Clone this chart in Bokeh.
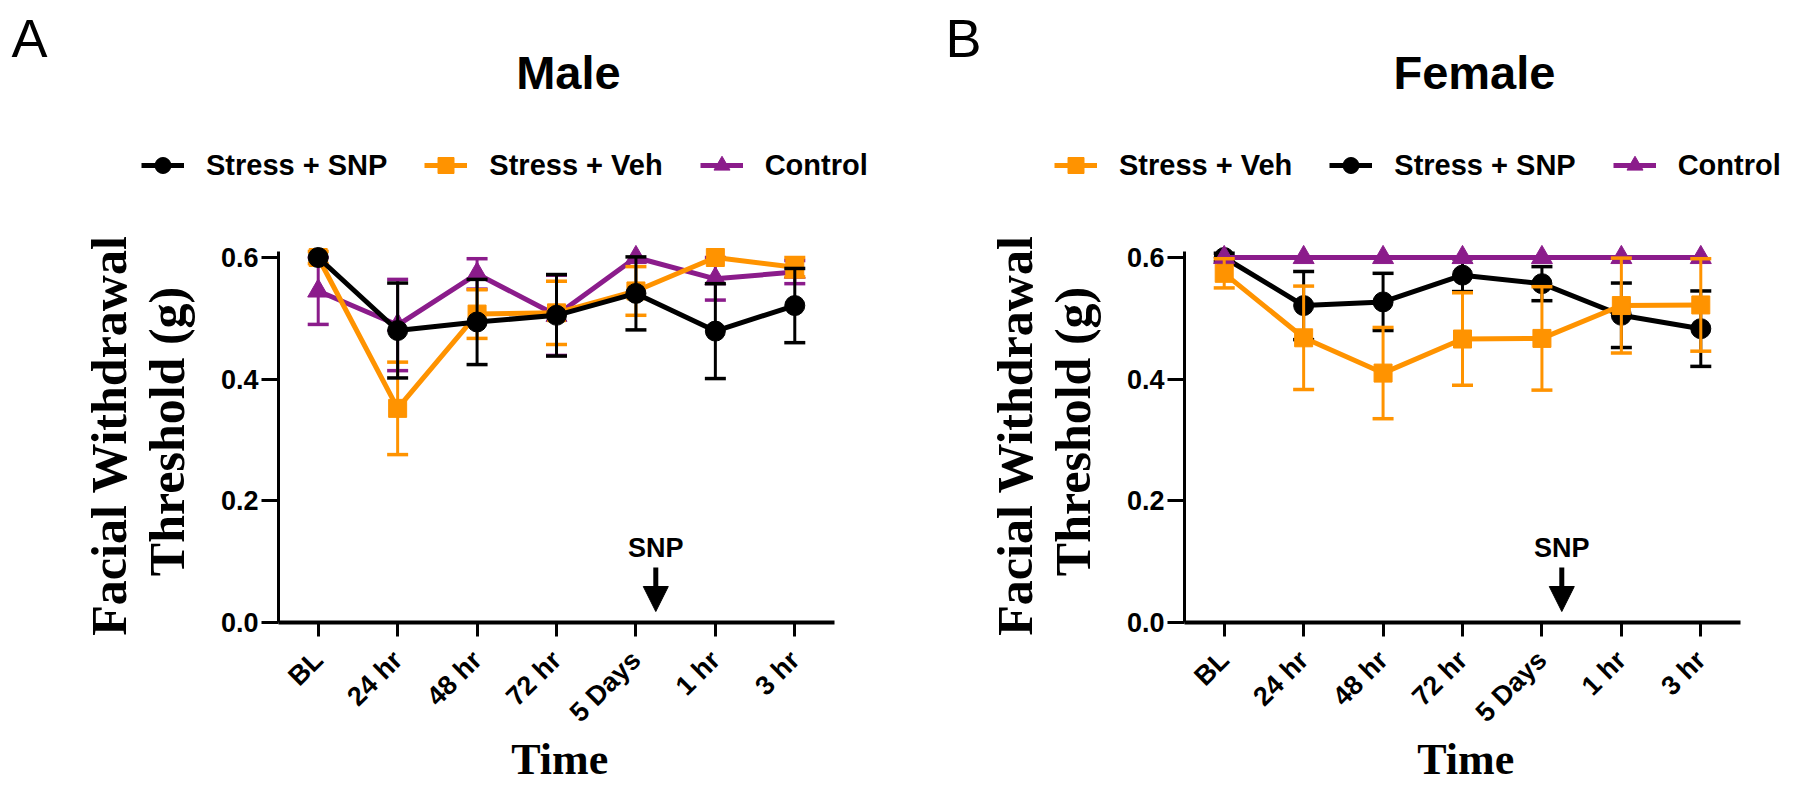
import math
from bokeh.plotting import figure
from bokeh.layouts import row
from bokeh.models import (Range1d, FixedTicker, Label, Arrow, NormalHead, Legend,
                          LegendItem, ColumnDataSource)
from bokeh.embed import file_html
from bokeh.resources import INLINE

# ---------------- data ----------------
times = ["BL", "24 hr", "48 hr", "72 hr", "5 Days", "1 hr", "3 hr"]
x_pos = list(range(len(times)))

male_snp = [0.600, 0.480, 0.494, 0.505, 0.541, 0.479, 0.521]
male_snp_sem = [0.0, 0.078, 0.070, 0.067, 0.060, 0.078, 0.061]
male_veh = [0.600, 0.352, 0.507, 0.509, 0.545, 0.600, 0.584]
male_veh_sem = [0.010, 0.076, 0.040, 0.052, 0.040, 0.0, 0.016]
male_ctl = [0.545, 0.489, 0.573, 0.505, 0.600, 0.565, 0.576]
male_ctl_sem = [0.055, 0.075, 0.025, 0.066, 0.0, 0.035, 0.019]

female_veh = [0.574, 0.468, 0.410, 0.466, 0.467, 0.521, 0.522]
female_veh_sem = [0.024, 0.085, 0.075, 0.076, 0.085, 0.078, 0.076]
female_snp = [0.600, 0.521, 0.527, 0.571, 0.557, 0.505, 0.483]
female_snp_sem = [0.007, 0.056, 0.047, 0.027, 0.028, 0.053, 0.062]
female_ctl = [0.600, 0.600, 0.600, 0.600, 0.600, 0.600, 0.600]
female_ctl_sem = [0.0, 0.0, 0.0, 0.0, 0.0, 0.0, 0.0]

y_ticks = [0.0, 0.2, 0.4, 0.6]
snp_time = 4.25

ORANGE = "#FF9300"
PURPLE = "#8B1C8B"
BLACK = "#000000"

SANS = "Liberation Sans"
SERIF = "Liberation Serif"

# ---------------- layout constants (pixels) ----------------
H = 793                 # canvas height
PX = 556 / 7.0          # pixels per time step
PY = 365 / 0.6          # pixels per gram
Y0_PAGE = 622           # page y of value 0


def make_fig(canvas_left, width, axis_left):
    x_start = -0.5 - (axis_left - canvas_left) / PX
    y_start = -(H - Y0_PAGE) / PY
    p = figure(width=width, height=H,
               x_range=Range1d(x_start, x_start + width / PX),
               y_range=Range1d(y_start, Y0_PAGE / PY),
               output_backend="svg", toolbar_location=None, title=None,
               min_border=0, min_border_left=0, min_border_right=0,
               min_border_top=0, min_border_bottom=0)
    p.outline_line_color = None
    p.grid.visible = False
    p.background_fill_color = "white"
    p.border_fill_color = "white"

    xa = p.xaxis[0]
    xa.fixed_location = 0.0
    xa.bounds = (-0.5, 6.5)
    xa.ticker = FixedTicker(ticks=x_pos)
    xa.major_label_overrides = {i: t for i, t in enumerate(times)}
    xa.major_label_orientation = math.pi / 4
    xa.axis_line_width = 4
    xa.major_tick_line_width = 3
    xa.major_tick_out = 14
    xa.major_tick_in = 0
    xa.minor_tick_line_color = None
    xa.major_label_text_font = SANS
    xa.major_label_text_font_style = "bold"
    xa.major_label_text_font_size = "27px"
    xa.major_label_text_color = "black"
    xa.major_label_standoff = 19

    ya = p.yaxis[0]
    ya.fixed_location = -0.5
    ya.ticker = FixedTicker(ticks=y_ticks)
    ya.major_label_overrides = {t: "%.1f" % t for t in y_ticks}
    ya.bounds = (0, 0.61)
    ya.axis_line_width = 3
    ya.major_tick_line_width = 3
    ya.major_tick_out = 17
    ya.major_tick_in = 0
    ya.minor_tick_line_color = None
    ya.major_label_text_font = SANS
    ya.major_label_text_font_style = "bold"
    ya.major_label_text_font_size = "27px"
    ya.major_label_text_color = "black"
    ya.major_label_standoff = 3

    def dx(px):
        return -0.5 + (px - axis_left) / PX

    def dy(py):
        return (Y0_PAGE - py) / PY

    return p, dx, dy


def draw_series(p, means, sems, color, marker, size):
    idx = [i for i, s in enumerate(sems) if s > 0]
    eb = ColumnDataSource(dict(
        x=[x_pos[i] for i in idx],
        lo=[means[i] - sems[i] for i in idx],
        hi=[means[i] + sems[i] for i in idx]))
    p.segment(x0="x", y0="lo", x1="x", y1="hi", source=eb, line_color=color, line_width=3)
    p.scatter(x="x", y="hi", source=eb, marker="dash", size=21, line_color=color, line_width=3.5)
    p.scatter(x="x", y="lo", source=eb, marker="dash", size=21, line_color=color, line_width=3.5)
    src = ColumnDataSource(dict(x=x_pos, y=means))
    ln = p.line("x", "y", source=src, line_color=color, line_width=5)
    sc = p.scatter("x", "y", source=src, marker=marker, size=size,
                   fill_color=color, line_color=color)
    return ln, sc


def add_texts(p, dx, dy, axis_left, title, letter, letter_x):
    p.add_layout(Label(x=dx(letter_x), y=dy(37), text=letter, text_font=SANS,
                       text_font_size="54px", text_align="left", text_baseline="alphabetic",
                       text_color="black"))
    p.add_layout(Label(x=3.15, y=dy(72), text=title, text_font=SANS, text_font_style="bold",
                       text_font_size="47px", text_align="center", text_baseline="alphabetic",
                       text_color="black"))
    p.add_layout(Label(x=dx(axis_left - 170), y=dy(435), text="Facial Withdrawal",
                       angle=math.pi / 2, text_font=SERIF, text_font_style="bold",
                       text_font_size="50px", text_align="center", text_baseline="alphabetic",
                       text_color="black"))
    p.add_layout(Label(x=dx(axis_left - 112), y=dy(431), text="Threshold (g)",
                       angle=math.pi / 2, text_font=SERIF, text_font_style="bold",
                       text_font_size="50px", text_align="center", text_baseline="alphabetic",
                       text_color="black"))
    p.add_layout(Label(x=3.04, y=dy(759), text="Time", text_font=SERIF, text_font_style="bold",
                       text_font_size="44px", text_align="center", text_baseline="alphabetic",
                       text_color="black"))
    p.add_layout(Label(x=snp_time, y=dy(547), text="SNP", text_font=SANS, text_font_style="bold",
                       text_font_size="27px", text_align="center", text_baseline="alphabetic",
                       text_color="black"))
    p.add_layout(Arrow(x_start=snp_time, y_start=dy(567), x_end=snp_time, y_end=dy(611),
                       line_width=5, line_color="black",
                       end=NormalHead(size=25, fill_color="black", line_color="black", line_width=1)))


def add_legend(p, items, canvas_left, left_page):
    legend = Legend(items=[LegendItem(label=lab, renderers=list(r)) for lab, r in items],
                    location=(left_page - canvas_left, H - 185), orientation="horizontal",
                    glyph_width=43, glyph_height=40, label_height=40, label_standoff=22,
                    spacing=37, padding=0, margin=0, border_line_color=None,
                    background_fill_alpha=0, label_text_font=SANS,
                    label_text_font_style="bold", label_text_font_size="29px",
                    label_text_color="black")
    p.add_layout(legend)


# ---------------- Male ----------------
L1, W1, A1 = 0, 906, 278
p1, dx1, dy1 = make_fig(L1, W1, A1)
ctl1 = draw_series(p1, male_ctl, male_ctl_sem, PURPLE, "triangle", 21)
veh1 = draw_series(p1, male_veh, male_veh_sem, ORANGE, "square", 18)
snp1 = draw_series(p1, male_snp, male_snp_sem, BLACK, "circle", 20)
add_texts(p1, dx1, dy1, A1, "Male", "A", 11)
add_legend(p1, [("Stress + SNP", snp1), ("Stress + Veh", veh1), ("Control", ctl1)], L1, 141)

# ---------------- Female ----------------
L2, W2, A2 = 906, 892, 1184
p2, dx2, dy2 = make_fig(L2, W2, A2)
snp2 = draw_series(p2, female_snp, female_snp_sem, BLACK, "circle", 20)
ctl2 = draw_series(p2, female_ctl, female_ctl_sem, PURPLE, "triangle", 21)
veh2 = draw_series(p2, female_veh, female_veh_sem, ORANGE, "square", 18)
add_texts(p2, dx2, dy2, A2, "Female", "B", 945)
add_legend(p2, [("Stress + Veh", veh2), ("Stress + SNP", snp2), ("Control", ctl2)], L2, 1054)

layout = row(p1, p2)
open("out.html", "w").write(file_html(layout, INLINE))
